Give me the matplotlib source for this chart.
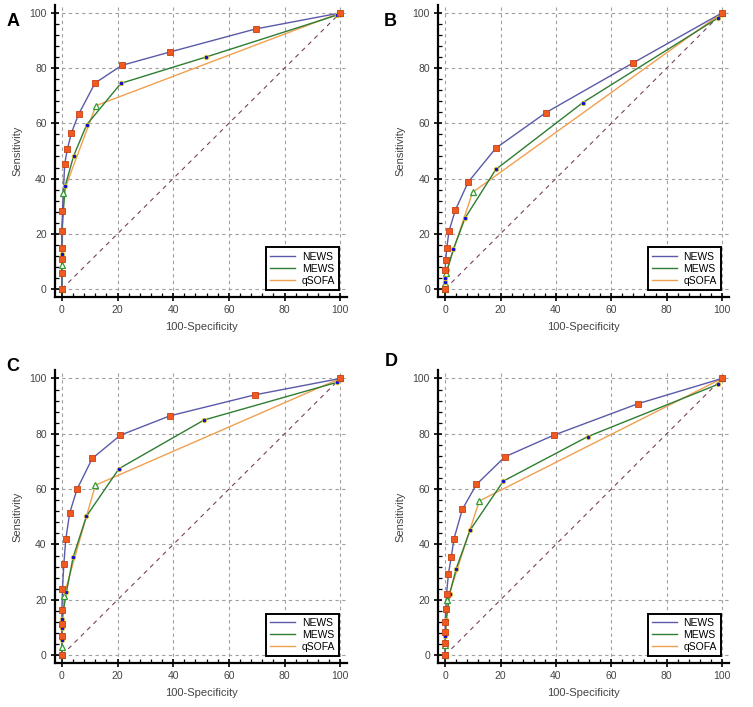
import matplotlib
matplotlib.use("Agg")
import matplotlib.pyplot as plt
from matplotlib.ticker import MultipleLocator

plt.rcParams['font.family'] = ['Liberation Sans', 'DejaVu Sans']

# ROC points: (100-specificity, sensitivity)
# panel A
newsA_x = [0, 0, 0, 0, 0, 0.2, 1, 2, 3.4, 6, 11.9, 21.5, 39, 69.6, 100]
newsA_y = [0, 5.6, 11, 15, 21, 28.3, 45.4, 50.8, 56.5, 63.3, 74.6, 81, 85.9, 94.2, 100]
mewsA_x = [0, 0, 0, 0, 1.2, 4.2, 8.9, 21.2, 51.7, 98.8, 100]
mewsA_y = [0, 5.6, 12.8, 21.5, 37.4, 48.2, 59.5, 74.5, 84, 99.2, 100]
qsofaA_x = [0, 0, 0.5, 12.2, 100]
qsofaA_y = [0, 8.6, 34.8, 66.4, 100]
# panel B
newsB_x = [0, 0, 0.2, 0.6, 1.4, 3.7, 8.3, 18.3, 36.4, 67.7, 100]
newsB_y = [0, 7, 10.4, 15, 21, 28.6, 38.7, 51, 63.9, 81.8, 100]
mewsB_x = [0, 0, 0, 0.8, 3, 7.2, 18.3, 49.7, 98.6, 100]
mewsB_y = [0, 2.5, 3.8, 7, 14.5, 25.7, 43.3, 67.5, 98.2, 100]
qsofaB_x = [0, 0, 0.2, 9.9, 100]
qsofaB_y = [0, 2, 5.8, 35, 100]
# panel C
newsC_x = [0, 0, 0, 0, 0.2, 0.7, 1.4, 2.8, 5.4, 10.9, 21, 38.8, 69.4, 100]
newsC_y = [0, 7, 11.4, 16.4, 23.9, 33.1, 42, 51.4, 59.9, 71.1, 79.5, 86.5, 94.1, 100]
mewsC_x = [0, 0, 0, 0, 1.6, 4, 8.8, 20.5, 51.1, 98.8, 100]
mewsC_y = [0, 5.6, 9.8, 13, 22.7, 35.3, 50.2, 67.4, 85, 98.6, 100]
qsofaC_x = [0, 0, 0.7, 12, 100]
qsofaC_y = [0, 3.1, 21.5, 61.4, 100]
# panel D
newsD_x = [0, 0, 0, 0, 0.2, 0.5, 1.2, 2.2, 3.2, 6.2, 11.3, 21.6, 39.2, 69.7, 100]
newsD_y = [0, 4.3, 8.2, 11.8, 16.7, 22.2, 29.5, 35.5, 42.1, 52.7, 61.7, 71.7, 79.5, 90.9, 100]
mewsD_x = [0, 0, 0.4, 1.6, 4, 9, 21, 51.5, 98.6, 100]
mewsD_y = [0, 6.8, 12.6, 22.1, 31.3, 45.2, 62.9, 79, 97.9, 100]
qsofaD_x = [0, 0, 0.8, 12.3, 100]
qsofaD_y = [0, 3.6, 20, 55.7, 100]

panels = [
    ("A", newsA_x, newsA_y, mewsA_x, mewsA_y, qsofaA_x, qsofaA_y),
    ("B", newsB_x, newsB_y, mewsB_x, mewsB_y, qsofaB_x, qsofaB_y),
    ("C", newsC_x, newsC_y, mewsC_x, mewsC_y, qsofaC_x, qsofaC_y),
    ("D", newsD_x, newsD_y, mewsD_x, mewsD_y, qsofaD_x, qsofaD_y),
]

# axes boxes in figure fractions (left, bottom, width, height)
boxes = [
    [0.073, 0.580, 0.388, 0.413],
    [0.582, 0.580, 0.386, 0.413],
    [0.073, 0.062, 0.388, 0.414],
    [0.582, 0.062, 0.386, 0.414],
]
letter_pos = [(0.017, 0.969), (0.518, 0.969), (0.017, 0.482), (0.519, 0.488)]

fig = plt.figure(figsize=(7.53, 7.07), dpi=100)

for i, (lab, nx, ny, mx, my, qx, qy) in enumerate(panels):
    ax = fig.add_axes(boxes[i])
    ax.set_xlim(-2.5, 102.5)
    ax.set_ylim(-2.9, 102.9)
    ax.xaxis.set_major_locator(MultipleLocator(20))
    ax.yaxis.set_major_locator(MultipleLocator(20))
    ax.xaxis.set_minor_locator(MultipleLocator(4))
    ax.yaxis.set_minor_locator(MultipleLocator(4))
    ax.grid(True, which='major', linestyle=(0, (3, 3)), color='#a0a0a0', linewidth=0.8)
    ax.set_axisbelow(True)
    for s in ['top', 'right']:
        ax.spines[s].set_visible(False)
    for s in ['left', 'bottom']:
        ax.spines[s].set_linewidth(1.6)
    ax.tick_params(which='major', direction='inout', length=6, width=1.2, labelsize=7.5,
                   colors='black', labelcolor='#444444', pad=3)
    ax.tick_params(which='minor', direction='in', length=3, width=0.9)

    # reference diagonal
    ax.plot([0, 100], [0, 100], linestyle=(0, (4, 4)), color='#7a4060', linewidth=0.8)

    ax.plot(qx, qy, color='#f0a050', linewidth=1.0, label='qSOFA', zorder=3)
    ax.plot(mx, my, color='#2e7d32', linewidth=1.0, label='MEWS', zorder=4)
    ax.plot(nx, ny, color='#5a5aa8', linewidth=1.0, label='NEWS', zorder=5)
    ax.plot(qx, qy, linestyle='none', marker='^', markersize=5, markerfacecolor='white',
            markeredgecolor='#2e9a2e', markeredgewidth=0.9, zorder=6)
    ax.plot(mx, my, linestyle='none', marker='o', markersize=3.3, markerfacecolor='#1010d0',
            markeredgecolor='#e8d020', markeredgewidth=0.6, zorder=7)
    ax.plot(nx, ny, linestyle='none', marker='s', markersize=4.8, markerfacecolor='#f05a20',
            markeredgecolor='#c84010', markeredgewidth=0.6, zorder=8)

    ax.set_xlabel('100-Specificity', fontsize=8, labelpad=5, color='#444444')
    ax.set_ylabel('Sensitivity', fontsize=8, labelpad=5, color='#444444')

    h, l = ax.get_legend_handles_labels()
    leg = ax.legend(h[::-1], l[::-1], loc='lower right', bbox_to_anchor=(0.973, 0.024),
                    borderaxespad=0, fancybox=False, fontsize=7.5, handlelength=2.4,
                    handletextpad=0.6, labelspacing=0.2, borderpad=0.4, framealpha=1)
    leg.get_frame().set_edgecolor('black')
    leg.get_frame().set_linewidth(1.4)

    fig.text(letter_pos[i][0], letter_pos[i][1], lab, fontsize=13, fontweight='bold',
             ha='center', va='center')

fig.savefig('out.png', dpi=100)
